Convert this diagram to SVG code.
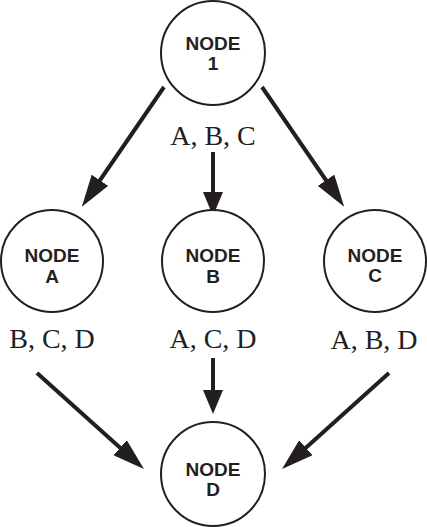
<svg xmlns="http://www.w3.org/2000/svg" width="427" height="527" viewBox="0 0 427 527">
<style>
.node circle{fill:#fff;stroke:#231f20;stroke-width:2}
.node text{font-family:"Liberation Sans",Arial,sans-serif;font-weight:bold;font-size:19px;fill:#231f20;text-anchor:middle}
.lbl{font-family:"Liberation Serif","Times New Roman",serif;font-size:28px;fill:#231f20;text-anchor:middle}
.edge{stroke:#231f20;stroke-width:4;fill:none}
</style>
<defs>
<marker id="hl" markerUnits="userSpaceOnUse" markerWidth="32" markerHeight="20" refX="10" refY="10" orient="auto">
<path d="M0,0 L32,10 L0,20 z" fill="#231f20"/>
</marker>
<marker id="hs" markerUnits="userSpaceOnUse" markerWidth="24" markerHeight="20" refX="8" refY="10" orient="auto">
<path d="M0,0 L24,10 L0,20 z" fill="#231f20"/>
</marker>
</defs>
<g id="connectors">
<line class="edge" x1="164" y1="87" x2="94.3" y2="188.5" marker-end="url(#hl)"/>
<line class="edge" x1="262" y1="87" x2="331.7" y2="188.5" marker-end="url(#hl)"/>
<line class="edge" x1="213" y1="152" x2="213" y2="200" marker-end="url(#hs)"/>
<line class="edge" x1="213" y1="358" x2="213" y2="398" marker-end="url(#hs)"/>
<line class="edge" x1="37" y1="373" x2="127.6" y2="454.4" marker-end="url(#hl)"/>
<line class="edge" x1="389" y1="373" x2="298.4" y2="454.4" marker-end="url(#hl)"/>
</g>
<g id="node1" class="node"><circle cx="213" cy="53" r="52"/><text x="213" y="50">NODE</text><text x="213" y="70">1</text></g>
<g id="nodeA" class="node"><circle cx="52" cy="261" r="51"/><text x="52" y="262">NODE</text><text x="52" y="283">A</text></g>
<g id="nodeB" class="node"><circle cx="213" cy="261" r="51"/><text x="213" y="262">NODE</text><text x="213" y="283">B</text></g>
<g id="nodeC" class="node"><circle cx="375" cy="261" r="51"/><text x="375" y="262">NODE</text><text x="375" y="282">C</text></g>
<g id="nodeD" class="node"><circle cx="213" cy="474" r="52"/><text x="213" y="476">NODE</text><text x="213" y="496">D</text></g>
<g id="labels">
<text class="lbl" x="213" y="145">A, B, C</text>
<text class="lbl" x="52" y="348">B, C, D</text>
<text class="lbl" x="213" y="348">A, C, D</text>
<text class="lbl" x="374" y="349">A, B, D</text>
</g>
</svg>
